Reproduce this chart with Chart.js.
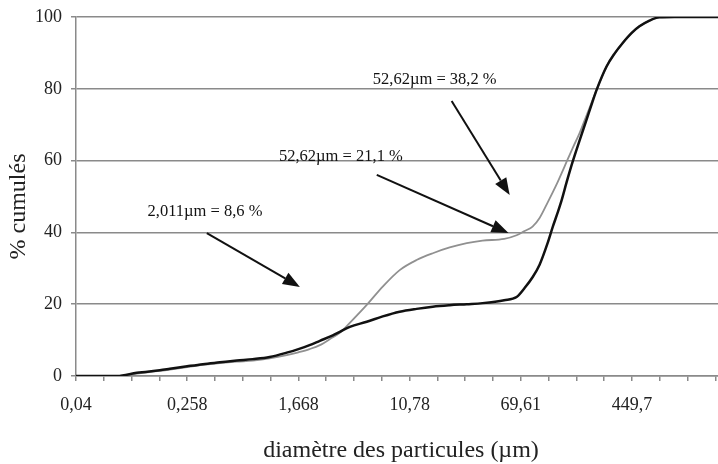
<!DOCTYPE html>
<html lang="fr">
<head>
<meta charset="UTF-8">
<title>Granulométrie - % cumulés</title>
<script src="https://cdn.jsdelivr.net/npm/chart.js"></script>
<style>
    html, body { margin: 0; padding: 0; background: #fff; }
</style>
</head>
<body>
<canvas id="granulo" width="718" height="464"></canvas>
<script>
    // diamètres des particules (µm), communs aux deux courbes
    const diametres = [0.04, 0.064, 0.08, 0.111, 0.163, 0.193, 0.258, 0.336, 0.447, 0.594,
        0.776, 1.03, 1.37, 1.668, 2.011, 2.39, 2.97, 3.34, 3.95, 5.25,
        6.86, 9.12, 12.1, 15.9, 21.1, 28.1, 36.6, 52.62, 64.8, 74.1,
        84.7, 95.3, 109, 119, 129, 138, 150, 166, 186, 209,
        232, 248, 293, 335, 383, 445, 509, 602, 711, 916, 1390, 1900];

    // % cumulés - courbe noire
    const cumulNoir = [0, 0, 0, 0.9, 1.6, 2.0, 2.7, 3.3, 3.8, 4.3,
        4.7, 5.3, 6.5, 7.5, 8.6, 9.8, 11.3, 12.3, 13.7, 15.1,
        16.6, 17.9, 18.7, 19.3, 19.7, 20.0, 20.3, 21.1, 22.0, 24.5,
        27.5, 31.0, 37.0, 41.6, 45.5, 49.0, 54.0, 59.7, 65.5, 71.3,
        76.5, 79.7, 86.2, 89.8, 92.7, 95.5, 97.4, 99.0, 99.9, 100, 100, 100];

    // % cumulés - courbe grise
    const cumulGris = [0, 0, 0, 0.7, 1.4, 1.8, 2.5, 3.1, 3.6, 4.0,
        4.3, 4.9, 5.8, 6.6, 7.5, 8.6, 10.8, 12.0, 14.8, 19.8,
        24.9, 29.5, 32.3, 34.2, 35.8, 37.0, 37.7, 38.2, 39.2, 40.4,
        41.6, 44.0, 48.3, 51.2, 54.0, 56.5, 59.7, 63.5, 67.6, 72.5,
        76.9, 79.7, 86.2, 89.8, 92.7, 95.5, 97.4, 99.0, 99.9, 100, 100, 100];

    const xTickValues = [0.04, 0.258, 1.668, 10.78, 69.61, 449.7];
    const xTickLabels = ['0,04', '0,258', '1,668', '10,78', '69,61', '449,7'];
    const xMax = 1900;

    const titreX = 'diamètre des particules (µm)';
    const titreY = '% cumulés';

    // annotations (positions en coordonnées des données)
    const notes = [
        { texte: '2,011µm = 8,6 %', x: 0.348, y: 45.7, de: [0.359, 39.8], vers: [1.71, 24.8] },
        { texte: '52,62µm = 21,1 %', x: 3.40, y: 61.0, de: [6.21, 56.0], vers: [56.6, 39.8] },
        { texte: '52,62µm = 38,2 %', x: 16.4, y: 82.5, de: [21.8, 76.6], vers: [57.7, 50.4] }
    ];

    const police = "'Liberation Serif', 'Times New Roman', serif";
    const gris = '#8a8a8a';

    function points(vals) {
        return diametres.map((d, i) => ({ x: d, y: vals[i] }));
    }

    // 4 intervalles entre chaque valeur étiquetée
    function ticksX() {
        const out = [];
        const pas = Math.pow(xTickValues[1] / xTickValues[0], 1 / 4);
        for (let i = 0; i < xTickValues.length; i++) {
            for (let j = 0; j < 4; j++) {
                const v = xTickValues[i] * Math.pow(pas, j);
                if (v <= xMax) out.push({ value: v, lab: j === 0 ? xTickLabels[i] : '' });
            }
        }
        return out;
    }
    const xTicks = ticksX();

    const flechesPlugin = {
        id: 'fleches',
        afterDraw(chart) {
            const ctx = chart.ctx;
            const sx = chart.scales.x, sy = chart.scales.y;
            const area = chart.chartArea;
            ctx.save();

            // titres des axes
            ctx.fillStyle = '#222';
            ctx.font = '24px ' + police;
            ctx.textAlign = 'center';
            ctx.textBaseline = 'alphabetic';
            ctx.fillText(titreX, (area.left + area.right) / 2 + 4, 457);
            ctx.save();
            ctx.translate(25, (area.top + area.bottom) / 2 + 10);
            ctx.rotate(-Math.PI / 2);
            ctx.fillText(titreY, 0, 0);
            ctx.restore();

            notes.forEach(n => {
                ctx.font = '16.5px ' + police;
                ctx.fillStyle = '#111';
                ctx.textAlign = 'center';
                ctx.textBaseline = 'middle';
                ctx.fillText(n.texte, sx.getPixelForValue(n.x), sy.getPixelForValue(n.y));

                const x1 = sx.getPixelForValue(n.de[0]), y1 = sy.getPixelForValue(n.de[1]);
                const x2 = sx.getPixelForValue(n.vers[0]), y2 = sy.getPixelForValue(n.vers[1]);
                const a = Math.atan2(y2 - y1, x2 - x1);
                const L = 17, W = 6.5;
                const bx = x2 - L * Math.cos(a), by = y2 - L * Math.sin(a);
                ctx.strokeStyle = '#111';
                ctx.lineWidth = 2;
                ctx.beginPath();
                ctx.moveTo(x1, y1);
                ctx.lineTo(bx, by);
                ctx.stroke();
                ctx.beginPath();
                ctx.moveTo(x2, y2);
                ctx.lineTo(bx + W * Math.sin(a), by - W * Math.cos(a));
                ctx.lineTo(bx - W * Math.sin(a), by + W * Math.cos(a));
                ctx.closePath();
                ctx.fill();
            });
            ctx.restore();
        }
    };

    new Chart(document.getElementById('granulo'), {
        type: 'line',
        data: {
            datasets: [
                {
                    label: 'noir',
                    data: points(cumulNoir),
                    borderColor: '#111',
                    borderWidth: 2.5,
                    pointRadius: 0,
                    cubicInterpolationMode: 'monotone'
                },
                {
                    label: 'gris',
                    data: points(cumulGris),
                    borderColor: '#909090',
                    borderWidth: 1.8,
                    pointRadius: 0,
                    cubicInterpolationMode: 'monotone'
                }
            ]
        },
        options: {
            responsive: false,
            animation: false,
            devicePixelRatio: 1,
            layout: { padding: { top: 17, right: 0, left: 0, bottom: 0 } },
            plugins: {
                legend: { display: false },
                tooltip: { enabled: false }
            },
            scales: {
                x: {
                    type: 'logarithmic',
                    min: 0.04,
                    max: xMax,
                    afterFit(scale) {
                        scale.height = 88;
                        scale.paddingLeft = 0;
                        scale.paddingRight = 0;
                    },
                    afterBuildTicks(scale) {
                        scale.ticks = xTicks.map(t => ({ value: t.value }));
                    },
                    ticks: {
                        autoSkip: false,
                        maxRotation: 0,
                        padding: 13,
                        color: '#222',
                        font: { family: police, size: 18 },
                        callback: (v, i) => xTicks[i] ? xTicks[i].lab : ''
                    },
                    grid: {
                        drawOnChartArea: false,
                        drawTicks: true,
                        tickLength: 5,
                        color: gris,
                        lineWidth: 1.5
                    },
                    border: { display: true, color: gris, width: 1.5 }
                },
                y: {
                    min: 0,
                    max: 100,
                    afterFit(scale) {
                        scale.width = 76;
                        scale.paddingTop = 0;
                        scale.paddingBottom = 0;
                    },
                    ticks: {
                        stepSize: 20,
                        padding: 9,
                        color: '#222',
                        font: { family: police, size: 18 }
                    },
                    grid: {
                        color: gris,
                        lineWidth: 1.5,
                        tickLength: 5
                    },
                    border: { display: true, color: gris, width: 1.5 }
                }
            }
        },
        plugins: [flechesPlugin]
    });
</script>
</body>
</html>
